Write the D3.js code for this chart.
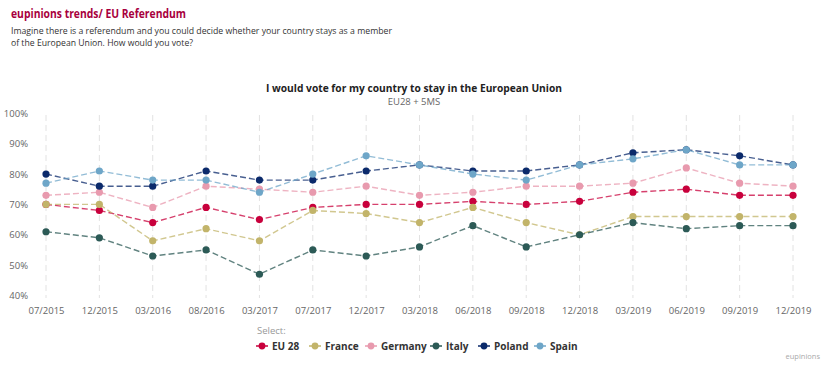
<!DOCTYPE html>
<html><head><meta charset="utf-8">
<script src="https://cdn.jsdelivr.net/npm/d3@7/dist/d3.min.js"></script>
<style>
body{margin:0;background:#fff;font-family:"Open Sans","DejaVu Sans",sans-serif;}
</style></head>
<body><svg id="c" width="828" height="365"></svg>
<script>
const categories=["07/2015","12/2015","03/2016","08/2016","03/2017","07/2017","12/2017","03/2018","06/2018","09/2018","12/2018","03/2019","06/2019","09/2019","12/2019"];
const seriesNames=["EU 28","France","Germany","Italy","Poland","Spain"];
const seriesColors=["#c8003c","#c2b46a","#e89aae","#2c5a56","#0b2a6b","#6ea6c8"];
const eu28=[70,68,64,69,65,69,70,70,71,70,71,74,75,73,73];
const france=[70,70,58,62,58,68,67,64,69,64,60,66,66,66,66];
const germany=[73,74,69,76,75,74,76,73,74,76,76,77,82,77,76];
const italy=[61,59,53,55,47,55,53,56,63,56,60,64,62,63,63];
const poland=[80,76,76,81,78,78,81,83,81,81,83,87,88,86,83];
const spain=[77,81,78,78,74,80,86,83,80,78,83,85,88,83,83];
const yTicks=[40,50,60,70,80,90,100];
const seriesValues=[eu28,france,germany,italy,poland,spain];

const svg=d3.select("#c");
const x=d3.scalePoint().domain(categories).range([46,793]);
const y=d3.scaleLinear().domain([40,100]).range([295.5,113.3]);

// header
svg.append("text").attr("x",11).attr("y",18).attr("fill","#a8003d").attr("font-size",11.5).attr("font-weight","bold").attr("textLength",175).attr("lengthAdjust","spacingAndGlyphs").text("eupinions trends/ EU Referendum");
svg.append("text").attr("x",11).attr("y",34).attr("fill","#333").attr("font-size",9.5).attr("textLength",381).attr("lengthAdjust","spacingAndGlyphs").text("Imagine there is a referendum and you could decide whether your country stays as a member");
svg.append("text").attr("x",11).attr("y",46).attr("fill","#333").attr("font-size",9.5).attr("textLength",182).attr("lengthAdjust","spacingAndGlyphs").text("of the European Union. How would you vote?");
svg.append("text").attr("x",414).attr("y",92).attr("text-anchor","middle").attr("fill","#222").attr("font-size",11).attr("font-weight","bold").attr("textLength",296).attr("lengthAdjust","spacingAndGlyphs").text("I would vote for my country to stay in the European Union");
svg.append("text").attr("x",414).attr("y",105).attr("text-anchor","middle").attr("fill","#666").attr("font-size",9.5).text("EU28 + 5MS");

// grid
svg.append("g").selectAll("line").data(categories).join("line")
 .attr("x1",d=>x(d)).attr("x2",d=>x(d)).attr("y1",115).attr("y2",298)
 .attr("stroke","#e2e2e2").attr("stroke-dasharray","6,4").attr("stroke-width",1);

// axes
const ya=svg.append("g").attr("transform","translate(28,0)").call(d3.axisLeft(y).tickValues(yTicks).tickFormat(d=>d+"%").tickSize(0).tickPadding(0));
ya.select(".domain").remove();
ya.selectAll("text").attr("fill","#666").attr("font-size",9.5).attr("font-family","'Open Sans',sans-serif");
const xa=svg.append("g").attr("transform","translate(0,303)").call(d3.axisBottom(x).tickSize(0).tickPadding(4));
xa.select(".domain").remove();
xa.selectAll("text").attr("fill","#666").attr("font-size",9.5).attr("font-family","'Open Sans',sans-serif");

// series
const line=d3.line().x((d,i)=>x(categories[i])).y(d=>y(d));
seriesValues.forEach((vals,k)=>{
  const g=svg.append("g");
  g.append("path").datum(vals).attr("d",line).attr("fill","none").attr("stroke",seriesColors[k]).attr("stroke-opacity",0.75).attr("stroke-width",1.4).attr("stroke-dasharray","6,3");
  g.selectAll("circle").data(vals).join("circle").attr("cx",(d,i)=>x(categories[i])).attr("cy",d=>y(d)).attr("r",3.6).attr("fill",seriesColors[k]);
});

// legend
svg.append("text").attr("x",257).attr("y",334).attr("fill","#999").attr("font-size",9.5).text("Select:");
const legX=[262,315,371,436,484,540];
seriesNames.forEach((n,k)=>{
  const g=svg.append("g").attr("transform",`translate(${legX[k]},346)`);
  g.append("line").attr("x1",-6).attr("x2",6).attr("stroke",seriesColors[k]).attr("stroke-width",1.5);
  g.append("circle").attr("r",3.4).attr("fill",seriesColors[k]);
  g.append("text").attr("x",10).attr("y",4).attr("fill","#333").attr("font-size",10).attr("font-weight","bold").text(n);
});
svg.append("text").attr("x",820).attr("y",359).attr("text-anchor","end").attr("fill","#aaa").attr("font-size",7.5).text("eupinions");
</script></body></html>
